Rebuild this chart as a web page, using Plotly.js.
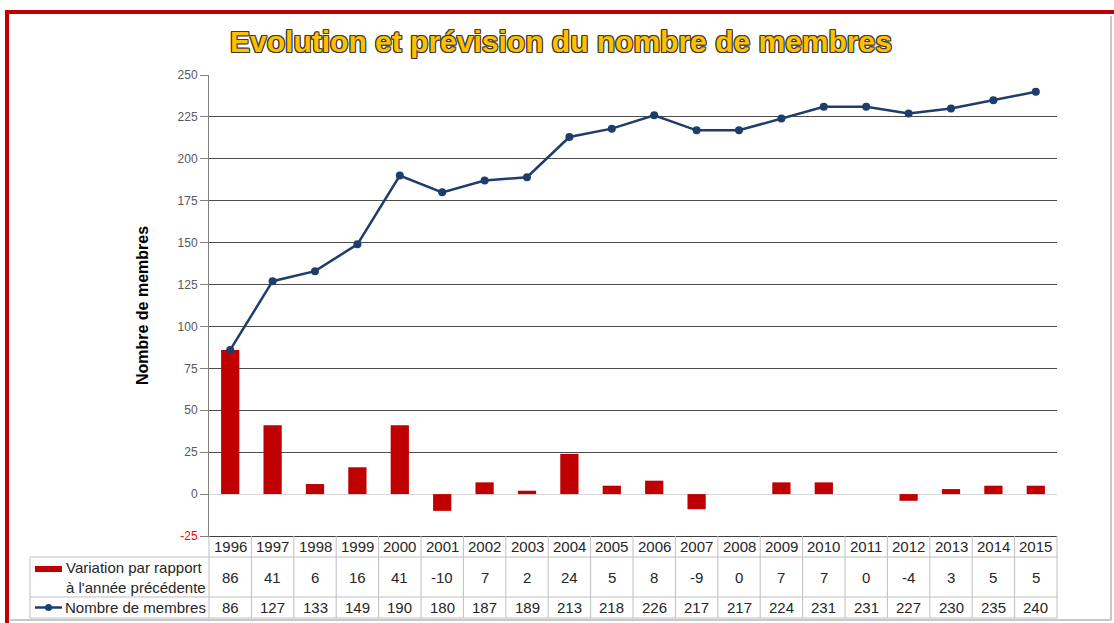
<!DOCTYPE html>
<html>
<head>
<meta charset="utf-8">
<script src="https://cdn.plot.ly/plotly-3.0.1.min.js"></script>
<style>html,body{margin:0;padding:0;background:#fff;}</style>
</head>
<body>
<div id="chart" style="width:1114px;height:623px;"></div>
<script>
// ---- data ----
const years = [1996,1997,1998,1999,2000,2001,2002,2003,2004,2005,2006,2007,2008,2009,2010,2011,2012,2013,2014,2015];
const variation = [86,41,6,16,41,-10,7,2,24,5,8,-9,0,7,7,0,-4,3,5,5];
const membres = [86,127,133,149,190,180,187,189,213,218,226,217,217,224,231,231,227,230,235,240];
const yTickVals = [-25,0,25,50,75,100,125,150,175,200,225,250];
const yTickText = ['<span style="color:#FF0000">-25</span>','0','25','50','75','100','125','150','175','200','225','250'];
const titleText = "Evolution et prévision du nombre de membres";
const yTitle = "Nombre de membres";
const seriesVarName = "Variation par rapport<br>à l'année précédente";
const seriesMemName = "Nombre de membres";

// ---- layout geometry (pixels) ----
const W = 1114, H = 623;
const L = 209, R = 1057, T = 75, B = 536;
const px = v => (v - L) / (R - L);
const py = v => (B - v) / (B - T);

const rowHeadBot = 557, row2Bot = 597, row3Bot = 618, legLeft = 30;
const gridCol = '#BFBFBF';

const shapes = [];
const annotations = [];

// table horizontal lines
[rowHeadBot, row2Bot, row3Bot].forEach(yy => {
  shapes.push({type:'line', xref:'paper', yref:'paper', x0:px(legLeft), x1:px(R), y0:py(yy), y1:py(yy), line:{color:gridCol, width:1}});
});
// legend column left border & outer borders
shapes.push({type:'line', xref:'paper', yref:'paper', x0:px(legLeft), x1:px(legLeft), y0:py(rowHeadBot), y1:py(row3Bot), line:{color:gridCol, width:1}});
shapes.push({type:'line', xref:'paper', yref:'paper', x0:0, x1:0, y0:py(B), y1:py(row3Bot), line:{color:gridCol, width:1}});
shapes.push({type:'line', xref:'paper', yref:'paper', x0:1, x1:1, y0:py(B), y1:py(row3Bot), line:{color:gridCol, width:1}});
// interior column separators
years.slice(0, -1).forEach(y => {
  shapes.push({type:'line', xref:'x', yref:'paper', x0:y+0.5, x1:y+0.5, y0:py(B), y1:py(row3Bot), line:{color:gridCol, width:1}});
});

// table text
const cellFont = {family:'Liberation Sans, Arial, sans-serif', size:15, color:'#262626'};
years.forEach((y, i) => {
  annotations.push({xref:'x', yref:'paper', x:y, y:py((B+rowHeadBot)/2), text:String(y), showarrow:false, font:cellFont, xanchor:'center', yanchor:'middle'});
  annotations.push({xref:'x', yref:'paper', x:y, y:py((rowHeadBot+row2Bot)/2), text:String(variation[i]), showarrow:false, font:cellFont, xanchor:'center', yanchor:'middle'});
  annotations.push({xref:'x', yref:'paper', x:y, y:py((row2Bot+row3Bot)/2), text:String(membres[i]), showarrow:false, font:cellFont, xanchor:'center', yanchor:'middle'});
});

// legend keys in table
shapes.push({type:'rect', xref:'paper', yref:'paper', x0:px(35), x1:px(62), y0:py(566), y1:py(572), fillcolor:'#C00000', line:{width:0}});
shapes.push({type:'line', xref:'paper', yref:'paper', x0:px(35), x1:px(62), y0:py(607.5), y1:py(607.5), line:{color:'#1F3D6B', width:2.5}});
shapes.push({type:'circle', xref:'paper', yref:'paper', x0:px(45), x1:px(52), y0:py(604), y1:py(611), fillcolor:'#1F3D6B', line:{width:0}});
annotations.push({xref:'paper', yref:'paper', x:px(64), y:py((rowHeadBot+row2Bot)/2), text:seriesVarName, showarrow:false, align:'left', xanchor:'left', yanchor:'middle', font:cellFont});
annotations.push({xref:'paper', yref:'paper', x:px(63), y:py((row2Bot+row3Bot)/2), text:seriesMemName, showarrow:false, align:'left', xanchor:'left', yanchor:'middle', font:cellFont});

// frame
shapes.push({type:'line', xref:'paper', yref:'paper', x0:px(5), x1:px(1114), y0:py(12), y1:py(12), line:{color:'#C00000', width:4}});
shapes.push({type:'line', xref:'paper', yref:'paper', x0:px(7), x1:px(7), y0:py(10), y1:py(623), line:{color:'#C00000', width:4}});
shapes.push({type:'line', xref:'paper', yref:'paper', x0:px(1111), x1:px(1111), y0:py(16), y1:py(620), line:{color:'#C8C8C8', width:2}});
shapes.push({type:'line', xref:'paper', yref:'paper', x0:px(10), x1:px(1111), y0:py(620), y1:py(620), line:{color:'#C8C8C8', width:2}});

const traces = [
  {type:'bar', x:years, y:variation, name:'Variation', width:0.43, marker:{color:'#C00000'}, hoverinfo:'x+y'},
  {type:'scatter', mode:'lines+markers', x:years, y:membres, name:'Nombre de membres', line:{color:'#1F3D6B', width:2.5}, marker:{color:'#1F3D6B', size:8}}
];

const layout = {
  width:W, height:H,
  margin:{l:L, r:W-R, t:T, b:H-B, pad:0},
  paper_bgcolor:'#ffffff', plot_bgcolor:'#ffffff',
  showlegend:false,
  title:{
    text:'<b>'+titleText+'</b>',
    xref:'container', yref:'container', x:561/W, y:1-41/H, xanchor:'center', yanchor:'middle',
    font:{family:'Liberation Sans, Arial, sans-serif', size:30, color:'#FFC000',
          shadow:'-1px -1px 0 #3a3a3a, 1px -1px 0 #3a3a3a, -1px 1px 0 #3a3a3a, 1px 1px 0 #3a3a3a, 0 1px 0 #3a3a3a, 0 -1px 0 #3a3a3a, 1px 0 0 #3a3a3a, -1px 0 0 #3a3a3a'}
  },
  xaxis:{
    range:[1995.5, 2015.5], showticklabels:false, ticks:'', showgrid:false, zeroline:false,
    showline:true, linecolor:'#404040', linewidth:1, fixedrange:true
  },
  yaxis:{
    range:[-25, 250], tickvals:yTickVals, ticktext:yTickText,
    ticks:'outside', ticklen:8, tickcolor:'#808080', tickwidth:1,
    showgrid:true, gridcolor:'#4D4D4D', gridwidth:1,
    zeroline:true, zerolinecolor:'#D9D9D9', zerolinewidth:1,
    showline:true, linecolor:'#808080', linewidth:1,
    tickfont:{family:'Liberation Sans, Arial, sans-serif', size:12, color:'#595959'},
    title:{text:'<b>'+yTitle+'</b>', font:{family:'Liberation Sans, Arial, sans-serif', size:16, color:'#000'}, standoff:24},
    fixedrange:true
  },
  bargap:0.5,
  shapes:shapes,
  annotations:annotations
};

Plotly.newPlot('chart', traces, layout, {displayModeBar:false, staticPlot:true});
</script>
</body>
</html>
